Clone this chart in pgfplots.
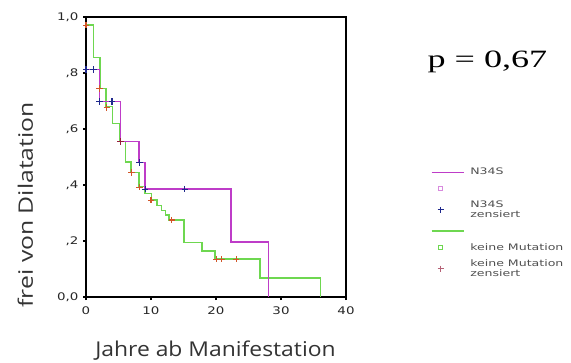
\documentclass[border=0pt]{standalone}
\usepackage{pgfplots}
\pgfplotsset{compat=1.18}
\usepackage{fontspec}
\setmainfont{Liberation Serif}
\newfontfamily\labfont{Open Sans}
\newfontfamily\tickfont{DejaVu Sans}
\newfontfamily\legfont{DejaVu Sans}
\definecolor{nline}{RGB}{190,60,200}
\definecolor{gline}{RGB}{110,215,80}
\definecolor{bmark}{RGB}{30,40,140}
\definecolor{omark}{RGB}{210,85,40}
\definecolor{dmark}{RGB}{150,30,60}
\definecolor{legtext}{RGB}{80,80,80}
\newcommand\sx[1]{\scalebox{1.28}[1]{#1}}
\newcommand\lx[1]{\scalebox{1.4}[1]{#1}}
\pgfplotsset{
  legline/.style={legend image code/.code={\draw[##1] (0bp,0bp) -- (32bp,0bp);}},
  legmark/.style={legend image code/.code={\draw[##1] plot coordinates {(9bp,0bp)};}},
}
\begin{document}
\begin{tikzpicture}
\useasboundingbox (0bp,0bp) rectangle (571bp,363bp);
\begin{axis}[
  at={(86bp,66bp)}, anchor=south west,
  width=260bp, height=280bp, scale only axis,
  xmin=0, xmax=40, ymin=0, ymax=1,
  xtick={0,10,20,30,40},
  xticklabels={\sx{0},\sx{10},\sx{20},\sx{30},\sx{40}},
  ytick={0,0.2,0.4,0.6,0.8,1},
  yticklabels={{\sx{0,0}},{\sx{,2}},{\sx{,4}},{\sx{,6}},{\sx{,8}},{\sx{1,0}}},
  xtick pos=bottom, ytick pos=left,
  tick align=outside, major tick length=3bp,
  tick style={black, line width=1.4bp},
  axis line style={line width=1.1bp},
  ticklabel style={font=\tickfont\fontsize{10.5}{10.5}\selectfont, text=black!85},
  xticklabel style={yshift=-3bp},
  yticklabel style={xshift=-1bp},
  clip=false,
  legend style={at={(rel axis cs:1.315,0.475)}, anchor=north west, draw=none, fill=none,
    font=\legfont\fontsize{9}{10}\selectfont, text=legtext, row sep=4bp, column sep=4bp},
  legend cell align=left,
]
\addlegendimage{nline, line width=1.2bp, legline}
\addlegendentry{\lx{N34S}}
\addlegendimage{only marks, mark=square, mark size=2bp, color=nline!60, legmark}
\addlegendentry{\strut}
\addlegendimage{only marks, mark=+, mark size=3bp, line width=1bp, color=bmark, legmark}
\addlegendentry{\shortstack[l]{\lx{N34S}\\\lx{zensiert}}}
\addlegendimage{gline, line width=1.2bp, legline}
\addlegendentry{\strut}
\addlegendimage{only marks, mark=square, mark size=2bp, color=gline, legmark}
\addlegendentry{\lx{keine Mutation}}
\addlegendimage{only marks, mark=+, mark size=3bp, line width=1bp, color=dmark!70, legmark}
\addlegendentry{\shortstack[l]{\lx{keine Mutation}\\\lx{zensiert}}}

% keine Mutation survival curve
\addplot[const plot, gline, line width=1.6bp, forget plot] coordinates {
(0,0.971) (1.13,0.856) (2.15,0.745) (3.08,0.680) (4.05,0.620) (5.23,0.556)
(6.05,0.483) (6.9,0.444) (8.15,0.395) (9.1,0.370) (10.1,0.346) (10.9,0.327)
(11.6,0.309) (12.2,0.292) (12.8,0.275) (15.1,0.194) (17.8,0.164) (19.85,0.135)
(26.8,0.067) (36.1,0)
};
% N34S survival curve
\addplot[const plot, nline, line width=1.6bp, forget plot] coordinates {
(0,0.813) (2.05,0.698) (5.3,0.556) (8.15,0.48) (9.08,0.385) (22.3,0.196) (28.1,0)
};
% N34S censored
\addplot[only marks, mark=+, mark size=3.2bp, bmark, line width=1.1bp, forget plot] coordinates {
(0,0.813) (1.13,0.813) (2.1,0.698) (4.0,0.698) (8.25,0.48) (9.1,0.385) (15.2,0.385)
};
% keine Mutation censored
\addplot[only marks, mark=+, mark size=3.2bp, omark, line width=1.1bp, forget plot] coordinates {
(0,0.971) (2.1,0.745) (3.2,0.677) (7.0,0.444) (8.2,0.392) (10.0,0.346)
(13.2,0.275) (20.1,0.135) (20.9,0.135) (23.1,0.135)
};
\addplot[only marks, mark=+, mark size=3.2bp, dmark, line width=1.1bp, forget plot] coordinates {
(5.3,0.556)
};
\node[font=\fontsize{25}{25}\selectfont, anchor=base] at (rel axis cs:1.544,0.821) {\scalebox{1.45}[1]{p = 0,67}};
\node[font=\labfont\fontsize{20.5}{20.5}\selectfont, text=black!80, anchor=base] at (rel axis cs:0.498,-0.212) {\scalebox{1.12}[1]{Jahre ab Manifestation}};
\node[font=\labfont\fontsize{20}{20}\selectfont, text=black!80, anchor=base, rotate=90] at (rel axis cs:-0.204,0.329) {\scalebox{1.24}[1]{frei von Dilatation}};
\end{axis}
\end{tikzpicture}
\end{document}
